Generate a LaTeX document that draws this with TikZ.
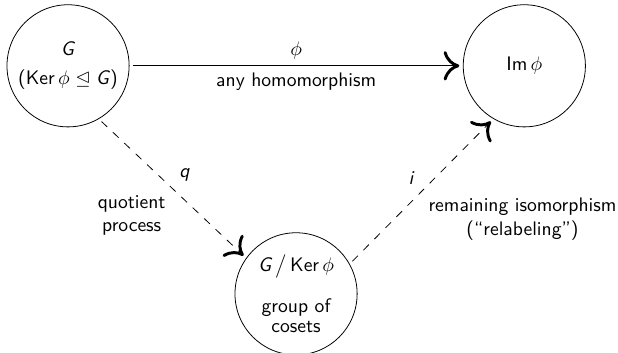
\documentclass[tikz,border=0pt]{standalone}
\usepackage{tikz}
\usetikzlibrary{arrows.meta, positioning}
\usepackage{amsmath, amssymb}

\newcommand{\sfv}[1]{\textsf{\textit{#1}}}

\begin{document}
\begin{tikzpicture}[
    >={Computer Modern Rightarrow[length=8pt, width=15pt, line width=1.5pt]},
    setnode/.style={draw, circle, minimum size=2.19cm, inner sep=0pt,
                    outer sep=2pt, font=\sffamily, align=center},
    lbl/.style={font=\sffamily, align=center},
    mapdash/.style={dash pattern=on 4pt off 4pt}
  ]
  \useasboundingbox (-1.22,1.18) rectangle (9.86,-5.14);

  \node[setnode] (grp) at (0,0)
    {\sfv{G}\\[3pt](Ker\,$\phi\trianglelefteq\mbox{\sfv{G}}$)};
  \node[setnode, right=5.85cm of grp] (img) {Im\,$\phi$};
  \node[setnode, below right=2.44cm and 2.44cm of grp]
    (quot) {\sfv{G}\,$\big/$\,Ker\,$\phi$\\[9pt]group of\\[-2pt]cosets};

  \draw[->] (grp) -- node[lbl, above] {$\phi$}
    node[lbl, below] {any homomorphism} (img);
  \draw[->, mapdash] (grp.-59) -- node[lbl, above right] {\sfv{q}}
    node[lbl, below left] {quotient\\process} (quot.144);
  \draw[->, mapdash] (quot.30) -- node[lbl, above left] {\sfv{i}}
    node[lbl, below right] {remaining isomorphism\\(``relabeling'')} (img.-121);
\end{tikzpicture}
\end{document}
